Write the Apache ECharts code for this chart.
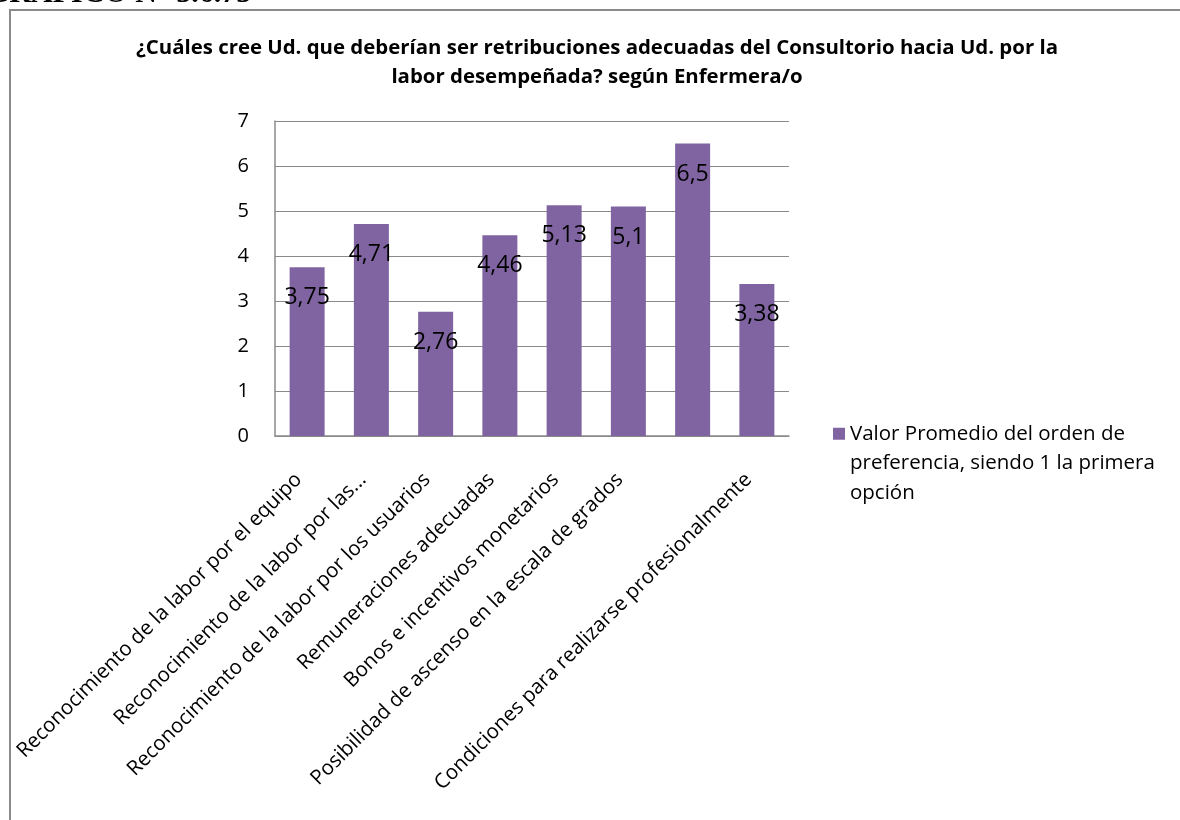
<!DOCTYPE html>
<html><head><meta charset="utf-8">
<script src="https://cdn.jsdelivr.net/npm/echarts@6/dist/echarts.min.js"></script>
<style>html,body{margin:0;padding:0;background:#fff}#c{width:1180px;height:820px}</style>
</head><body><div id="c"></div>
<script>
const pageHeading = 'GRAFICO N° 5.6.75';
const titleText = '¿Cuáles cree Ud. que deberían ser retribuciones adecuadas del Consultorio hacia Ud. por la\nlabor desempeñada? según Enfermera/o';
const categories = [
  'Reconocimiento de la labor por el equipo',
  'Reconocimiento de la labor por las...',
  'Reconocimiento de la labor por los usuarios',
  'Remuneraciones adecuadas',
  'Bonos e incentivos monetarios',
  'Posibilidad de ascenso en la escala de grados',
  '',
  'Condiciones para realizarse profesionalmente'
];
const values = [3.75, 4.71, 2.76, 4.46, 5.13, 5.1, 6.5, 3.38];
const seriesName = 'Valor Promedio del orden de preferencia, siendo 1 la primera opción';
const legendLines = ['Valor Promedio del orden de', 'preferencia, siendo 1 la primera', 'opción'];
const yTicks = [0, 1, 2, 3, 4, 5, 6, 7];

const FONT = 'Open Sans';
const chart = echarts.init(document.getElementById('c'));
chart.setOption({
  backgroundColor: '#fff',
  animation: false,
  title: {
    text: titleText,
    left: 592, top: 29, textAlign: 'center',
    textStyle: { fontFamily: FONT, fontWeight: 'bold', fontSize: 20.4, lineHeight: 29, color: '#000' }
  },
  graphic: [
    { type: 'rect', shape: { x: 10, y: 10, width: 1200, height: 900 }, style: { fill: 'none', stroke: '#8a8a8a', lineWidth: 2 }, silent: true },
    { type: 'text', left: -14, top: -21, style: { text: pageHeading, font: 'bold 30px "Liberation Serif"', fill: '#000' } }
  ],
  legend: {
    show: true,
    data: [seriesName],
    left: 828, top: 355,
    icon: 'rect', itemWidth: 12, itemHeight: 12, itemGap: 6,
    formatter: () => '\n\n' + legendLines.join('\n'),
    textStyle: { fontFamily: FONT, fontSize: 20.5, lineHeight: 29.5, color: '#000' }
  },
  grid: { left: 275, right: 391, top: 121, bottom: 384, containLabel: false },
  xAxis: {
    type: 'category',
    data: categories,
    axisLine: { lineStyle: { color: '#8a8a8a', width: 1.5 } },
    axisTick: { show: false },
    axisLabel: { interval: 0, rotate: 45, margin: 32, padding: [0, 12, 0, 0], fontFamily: FONT, fontSize: 20.5, color: '#000' }
  },
  yAxis: {
    type: 'value', min: 0, max: 7, interval: 1,
    axisLine: { show: true, lineStyle: { color: '#8a8a8a', width: 1.5 } },
    axisTick: { show: false },
    splitLine: { lineStyle: { color: '#8a8a8a', width: 1.2 } },
    axisLabel: { margin: 26, fontFamily: FONT, fontSize: 20, color: '#000',
      formatter: v => yTicks.includes(v) ? String(v) : '' }
  },
  series: [{
    name: seriesName,
    type: 'bar',
    data: values,
    barWidth: 35,
    itemStyle: { color: '#8064A2' },
    label: {
      show: true, position: 'insideTop', distance: 19,
      fontFamily: FONT, fontSize: 23, color: '#000',
      formatter: p => String(p.value).replace('.', ',')
    }
  }]
});
</script></body></html>
